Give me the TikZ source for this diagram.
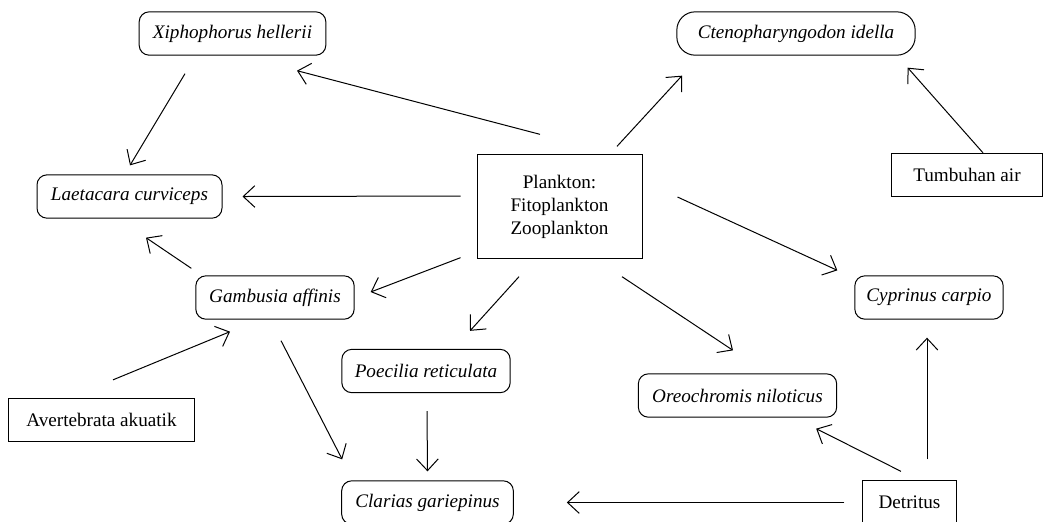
\documentclass[tikz,border=0pt]{standalone}
\usepackage{fontspec}
\setmainfont{Liberation Serif}
\usetikzlibrary{arrows.meta}

\newcommand{\fsz}{\fontsize{11.5}{13.8}\selectfont}

\tikzset{
  fish/.style={draw, rounded corners=6pt, minimum height=26pt, inner xsep=6pt, font=\fsz\itshape},
  src/.style={draw, minimum height=26pt, inner xsep=6pt, font=\fsz},
  eat/.style={-{Straight Barb[length=7pt,width=13pt]}},
}

\begin{document}
\begin{tikzpicture}[x=0.6pt, y=-0.6pt, line width=0.6pt]
  \useasboundingbox (0,0) rectangle (1063,521);
  % food sources
  \node[src, minimum width=99pt, minimum height=62pt, align=center] (pl) at (559.5,206.5) {Plankton:\\Fitoplankton\\Zooplankton};
  \node[src, minimum width=91pt] (tu) at (967,175) {Tumbuhan air};
  \node[src, minimum width=112pt] (av) at (101.5,420) {Avertebrata akuatik};
  \node[src, minimum width=56pt] (de) at (909.5,502.5) {Detritus};
  % fish
  \node[fish, minimum width=112pt] (xh) at (232.5,33.5) {Xiphophorus hellerii};
  \node[fish, minimum width=143pt, rounded corners=11pt] (ct) at (796,33.5) {Ctenopharyngodon idella};
  \node[fish, minimum width=111pt] (lc) at (129.5,196.5) {Laetacara curviceps};
  \node[fish, minimum width=95pt] (ga) at (275,297.5) {Gambusia affinis};
  \node[fish, minimum width=101pt] (po) at (426,371) {Poecilia reticulata};
  \node[fish, minimum width=103pt] (cl) at (427.5,502.5) {Clarias gariepinus};
  \node[fish, minimum width=89pt] (cy) at (929,297.5) {Cyprinus carpio};
  \node[fish, minimum width=119pt] (or) at (737.5,395.5) {Oreochromis niloticus};

  % who eats what
  \draw[eat] ([shift={(-19.5,-20)}]pl.north) -- ([shift={(64.5,15)}]xh.south);
  \draw[eat] ([shift={(-47.5,18)}]xh.south) -- ([shift={(0.5,-9)}]lc.north);
  \draw[eat] ([shift={(-16,-10.5)}]pl.west) -- ([shift={(20,0)}]lc.east);
  \draw[eat] ([shift={(-4,-7)}]ga.north west) -- ([shift={(16.5,19)}]lc.south);
  \draw[eat] ([shift={(-16,-1)}]pl.south west) -- ([shift={(16,-5.5)}]ga.east);
  \draw[eat] ([shift={(57.5,-8)}]pl.north) -- ([shift={(-114,20)}]ct.south);
  \draw[eat] ([shift={(16,0)}]tu.north) -- ([shift={(-8,12)}]ct.south east);
  \draw[eat] ([shift={(35,-9.5)}]pl.east) -- ([shift={(-17,-5)}]cy.north west);
  \draw[eat] ([shift={(-40.5,18)}]pl.south) -- ([shift={(44,-18)}]po.north);
  \draw[eat] ([shift={(62.5,18)}]pl.south) -- ([shift={(-4.5,-23)}]or.north);
  \draw[eat] ([shift={(11.5,-18)}]av.north) -- ([shift={(-45,12)}]ga.south);
  \draw[eat] ([shift={(6,21)}]ga.south) -- ([shift={(1,-21)}]cl.north west);
  \draw[eat] ([shift={(1,18)}]po.south) -- ([shift={(0,-9)}]cl.north);
  \draw[eat] ([shift={(-18,0)}]de.west) -- ([shift={(53,0)}]cl.east);
  \draw[eat] ([shift={(-8.5,-9)}]de.north) -- ([shift={(-21,11)}]or.south east);
  \draw[eat] ([shift={(17.5,-21)}]de.north) -- ([shift={(-2,18)}]cy.south);
\end{tikzpicture}
\end{document}
